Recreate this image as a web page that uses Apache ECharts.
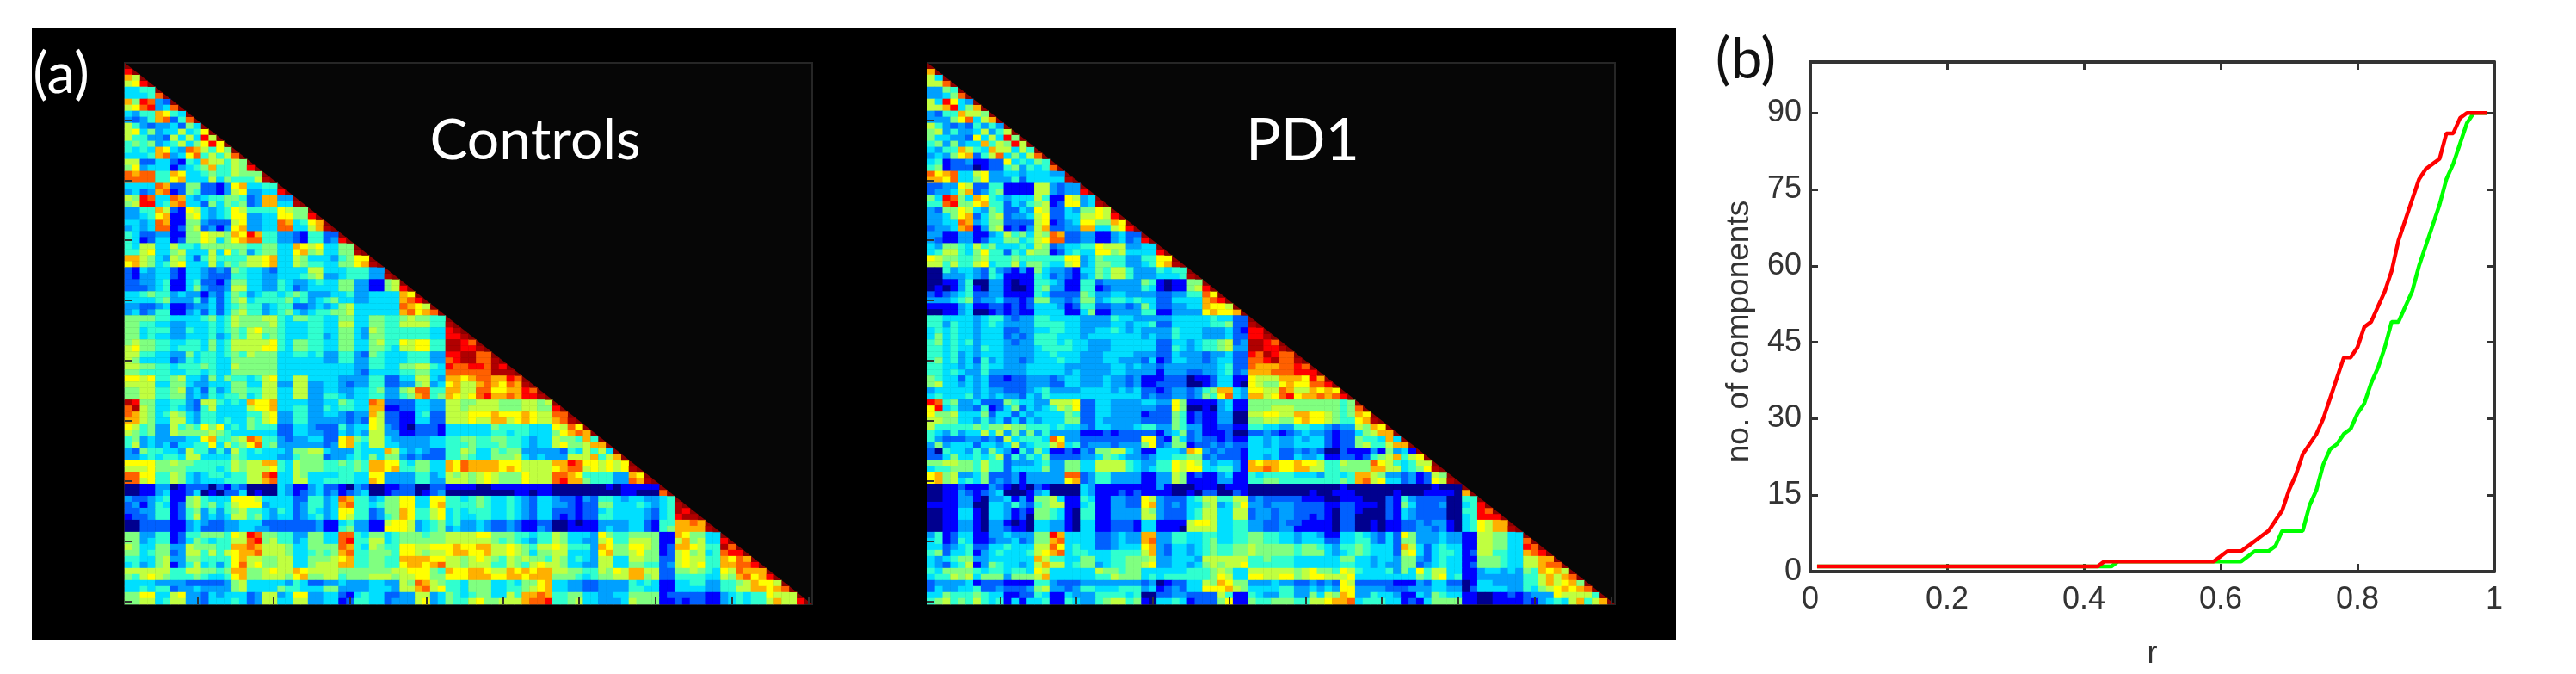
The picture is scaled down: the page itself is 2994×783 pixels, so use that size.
<!DOCTYPE html>
<html>
<head>
<meta charset="utf-8">
<style>
html, body { margin: 0; padding: 0; background: #fff; }
#main { width: 2994px; height: 783px; }
</style>
<script src="https://cdn.jsdelivr.net/npm/echarts@6/dist/echarts.min.js"></script>
</head>
<body>
<div id="main"></div>
<script>
// jet levels, one hex digit per cell: 0 navy, 8 yellow, c dark red, d diagonal
var levelColors = ['#00008f', '#0000ff', '#0060ff', '#00a0ff', '#00dfff', '#30ffcf', '#80ff80', '#c0ff40',
    '#ffff00', '#ffb000', '#ff6000', '#ff0000', '#b00000', '#8a0000'];

// row r holds columns 0..r-1 in groups of four, the diagonal is added when the data is built
var controlsRows = [
    'b',
    '97',
    '78b',
    '4455',
    '4445 a',
    '96ba 32',
    '78ab 34a',
    '4355 9854',
    '3235 9a25 a',
    '7532 3342 64',
    '7846 3447 458',
    '7553 3274 74b7',
    '5656 3457 468b 8',
    '5454 9843 a975 86',
    '4445 9a34 8a57 57a',
    '7722 4421 5497 7576',
    '6834 4413 4569 5576 b',
    'a9aa 5598 4456 5576 66',
    'aaaa 5589 4447 4655 57c',
    '4444 a922 6622 1389 4455',
    '3423 9a12 6522 1378 3344 b',
    '76ba 44a9 4345 5665 2399 33',
    '67bb 459a 4426 4656 2399 44c',
    '3355 9721 8743 4587 5555 8766',
    '3345 8911 7843 4588 3344 8866 b',
    '4434 a911 6632 2278 3344 a945 89',
    '3434 aa12 6723 1389 3344 aa44 79c',
    '5422 3311 6687 7698 b955 3321 5522',
    '5412 4412 6687 4689 aa55 3321 5523 b',
    '5477 4475 5466 6666 5566 4498 7844 66',
    '5578 4467 4447 4856 3566 4489 6744 66c',
    '9976 4376 4257 5555 7789 4476 4443 5688',
    '8976 4578 4447 4656 7789 4476 5544 6689 c',
    '2143 4421 4432 3265 4432 4444 7744 4555 33',
    '2133 4421 4432 2255 4433 4445 6733 4555 33c',
    '2233 4511 4522 1366 4433 5433 4544 6633 1167',
    '2223 4511 4632 2377 4433 5423 4444 6633 1167 b',
    '4456 5534 3313 2465 3455 4565 3334 4533 4444 98',
    '4444 5633 3524 2467 4555 5645 3456 4433 4444 9ab',
    '3322 3411 2334 2456 5534 5522 3434 6744 4444 a987',
    '3423 5511 3424 2467 5534 5643 4556 6744 4444 9a89 a',
    '6666 5544 4456 4576 6677 5466 5544 6644 6655 6766 55',
    '6655 4433 4445 4576 6667 5444 5544 7744 6655 7777 55c',
    '6645 5533 5445 4565 7866 5444 5544 6643 7655 5555 44bc',
    '6645 4433 4445 3465 7756 5444 5534 6643 6655 5555 44bb c',
    '6766 5544 5546 4577 7778 5466 5544 6644 6755 8788 55cc ba',
    '7866 5545 5546 4577 7788 5466 5544 6644 6654 7788 55cc bbc',
    '7755 4433 6455 4565 7666 4455 4533 5532 6544 4555 33bb ccaa',
    '7644 4423 5455 4466 6666 4444 4433 5533 5544 4555 33ab ccaa c',
    '7766 5545 5565 4476 6666 4444 4444 4433 5544 6677 54ba abba cb',
    '6655 5544 5545 4466 6666 4444 4444 4432 4444 5566 44aa aaaa ccc',
    '8878 5567 4436 4655 4578 4477 4444 3333 5522 4477 4399 89aa 99ba',
    '7777 4466 4334 4466 4477 3377 3344 3233 5522 3367 3489 779a 98a9 c',
    '6677 5567 3425 3466 5577 4477 3344 3344 5633 67aa 5599 77aa 8899 ba',
    '6677 5566 3435 4556 4577 4477 3355 4344 5533 569a 5698 78ab 99a9 bbc',
    'cb66 4455 3277 5454 9889 4444 3344 6544 a922 2244 3377 6677 7666 7767',
    'ac76 4454 3257 4444 7889 4455 3354 5544 9911 2244 3377 6777 7666 7766 b',
    'a976 4576 4355 4444 5578 3355 3344 3233 9722 1145 2277 7888 9888 9877 aa',
    '9976 4477 4355 4544 6578 3355 3333 3232 8722 1144 2277 7877 9978 9877 9ac',
    '8756 3375 6586 8454 6555 2244 3222 5344 8732 1022 2144 4444 6555 5444 87a8',
    '7656 3376 6667 6544 4444 2244 3322 4343 7733 1122 2144 4444 5545 5444 689a 9',
    '5634 3333 4489 5567 a955 3233 4422 8965 7743 3333 4455 6655 6655 4344 7665 95',
    '5734 3424 4558 4756 8a56 3333 3323 8954 7744 3333 4455 5655 5655 4344 7866 799',
    '3265 5443 7553 5375 4544 4366 7743 3354 4497 4343 2255 7644 6566 3333 3254 7574',
    '3345 4554 7744 4465 4444 3356 6623 3454 6466 3232 2255 6544 6667 4343 3377 7957 9',
    '8888 6676 6555 5576 7799 5476 6655 6565 9988 5466 4498 a999 9888 7777 99ba 8878 78',
    '7778 6666 5555 4576 7778 5476 6655 5565 9989 5566 4498 a999 9898 7777 89aa 7878 78c',
    'aa88 5576 4345 5455 77ab 4476 4444 5544 8833 3355 3476 7678 7666 8777 aa98 5555 3398',
    'aa78 5576 4344 4555 779a 4477 4455 5544 9833 3355 3377 7678 7666 8777 ab99 6555 33a9 c',
    '0011 3301 2220 2132 0000 4311 3422 1032 0011 2200 2211 1100 1111 1111 0000 0001 0111 11',
    '0011 3411 2401 0224 0100 4312 3423 1234 0012 2201 2300 0000 0001 1011 0000 0000 0110 00a',
    '3223 4511 6754 4488 8744 4422 5534 a955 3466 8844 8855 4565 4454 3244 3221 3255 4344 3345',
    '2313 5412 6756 4578 8834 4423 5534 9a55 4566 8844 8955 5565 4454 3244 3321 2266 4445 4345 c',
    '2233 5512 5635 3567 5543 5423 5434 8855 2366 9855 7845 4555 4454 3244 2221 2245 4444 3245 cb',
    '1223 5512 5734 3477 5643 4423 4534 8755 2356 9855 7845 4455 4454 3244 2121 2255 4444 3245 bcc',
    '0022 2211 3432 2334 4422 2222 2311 4533 1178 8734 5645 3343 2232 1122 0010 1133 3344 2155 99a9',
    '0022 2211 3422 2334 4332 2222 2311 5633 1188 8734 5634 3343 2232 1132 0011 1134 3344 2156 9999 c',
    '6633 5512 5566 6587 ba66 5533 6644 aa54 6645 6665 6677 7788 6665 5455 7644 4386 5566 6611 9866 44',
    '6634 5512 4654 5577 ab67 5534 6644 ab55 7745 6666 6677 7777 6565 4355 7644 3378 5577 7611 7967 44b',
    '7644 6633 7666 5599 a977 7644 6666 a954 7655 8877 8889 8899 7787 6577 8755 5398 6688 7612 9987 55ca',
    '6645 6623 7757 5789 9a77 7644 5656 9a55 6665 8876 7789 9889 7787 6466 7744 4389 6678 6612 7867 45ab b',
    '5544 6733 6655 5589 7766 7744 6667 8955 6655 9999 8877 6787 6576 7665 7645 4377 4477 6622 7877 5598 a9',
    '4534 6713 5745 358a 7866 7744 6777 9955 6655 8998 9a77 6777 5576 5787 7644 3377 4466 5523 7878 5599 aab',
    '7777 7755 7766 5699 6678 7798 7777 6666 6667 7888 6598 8998 7798 9899 7766 5576 8799 7722 6676 5487 a999',
    '6578 7655 5654 4589 6677 7689 6677 5666 7776 7788 6688 8999 8899 8999 6665 4566 7799 6722 5555 4476 9a89 b',
    '4444 3333 2222 2367 4444 4354 2233 4333 4433 76a9 7655 4666 4454 6689 4433 2233 3354 5411 4455 3355 6798 87',
    '4454 5523 3433 3367 4444 6554 4466 3333 4443 779a 7855 4666 4455 6789 4433 2233 3355 4411 4444 3355 7799 89a',
    '6688 4478 3324 3444 2377 3488 3344 2145 4422 3377 3465 4566 4475 99a9 5566 4433 4466 6612 2222 1134 5455 8777',
    '6677 4577 3324 4454 2377 4477 3344 1255 4423 3378 3465 5786 6777 9aab 5567 4433 3476 6611 2122 1134 5455 7977 b'
];

var pd1Rows = [
    '9',
    '74',
    '77a',
    '3365',
    '3346 a',
    '74b8 43',
    '779b 469',
    '3255 9776',
    '3336 8a47 9',
    '7532 3253 53',
    '6735 3347 357',
    '6443 3284 74b6',
    '5636 3449 576b 7',
    '4355 9754 9774 75',
    '3436 8925 7a46 47a',
    '4512 2311 2284 5465',
    '5612 2201 2256 3545 a',
    'a89a 4478 3344 3444 33',
    '998a 4468 3335 2444 44c',
    '2233 8722 5511 1177 3233',
    '2334 7923 5611 1177 3233 b',
    '64ba 6498 5434 4475 1187 34',
    '55ab 6689 5524 3567 1288 34c',
    '3266 8743 6522 4387 2243 6687',
    '3346 8924 6723 3478 2244 7787 b',
    '3344 a934 6622 2278 1234 8866 98',
    '2334 9a13 6712 1379 2233 9944 78b',
    '3311 3311 3475 6476 a922 3311 3422',
    '3211 3312 4466 4578 aa22 3311 3423 b',
    '4366 5475 6444 5476 2344 5587 7733 44',
    '4577 5468 5525 4766 1245 4488 6744 44b',
    '8766 5567 5556 5555 5588 3465 5533 5588',
    '7757 5578 4557 4665 4478 3466 5533 4589 c',
    '0053 4432 5321 3164 3321 4465 7753 3354 55',
    '0033 3432 5411 1154 2321 3465 7753 3344 45c',
    '0011 3500 3310 1155 4311 5523 3333 6510 1166',
    '0101 3510 3310 0156 3311 5512 3333 5410 1167 b',
    '2123 4522 3311 1154 2222 6533 4433 3322 3355 a8',
    '3334 5623 3422 1266 3323 6634 5545 4422 4444 9ab',
    '1111 3411 2212 1244 4312 5522 3323 6422 3344 9887',
    '0011 3400 1212 1144 4411 4611 3333 5511 3333 8988 9',
    '5544 4434 5532 3355 4444 3333 5443 3333 4444 4544 22',
    '5535 4434 5433 3355 5544 3333 4434 4522 4444 4556 22c',
    '4545 4434 4422 3344 5544 3344 5434 3333 5444 3334 21bb',
    '4645 4434 4423 2355 5444 3444 4444 3433 5444 3334 22bb c',
    '5645 4534 4432 3355 5454 4333 4444 4422 4434 5567 23cc ba',
    '5545 4435 4433 3345 5554 4333 4444 4422 5434 5567 33cc bbc',
    '5545 3434 4433 3344 5444 3334 4443 3322 4333 2334 22ba cbaa',
    '5645 3425 3433 2344 4544 3334 4333 2412 4433 2344 22aa bcaa c',
    '5544 3435 4433 3444 4433 3333 4434 3323 3333 3345 22a9 99aa ba',
    '5545 4335 3333 3444 4434 3333 4433 3313 3322 3345 2399 9aaa bbb',
    '6544 2434 2212 2333 2344 3334 3323 1112 2201 1244 1187 7799 98b9',
    '6744 3434 2222 2333 2244 3334 3323 1122 2200 1244 1087 6689 88aa b',
    '3444 4434 3322 2345 3333 4444 3434 2212 3323 5699 4388 77a9 7798 98',
    '4544 4534 3433 2435 4444 4444 4444 2322 3323 658a 4399 78ab 899a 9ab',
    'ba56 3342 2265 4433 7778 2244 3333 4433 8611 1134 1166 6666 6666 6656',
    '8b45 3325 1246 2434 5768 2244 3333 3322 8600 1034 1166 6777 6666 6656 a',
    '8667 4446 2442 4344 4465 2244 3333 1222 6512 1133 0077 8877 9988 7656 98',
    '7766 4435 3424 2434 4466 2243 3333 2222 6512 1133 0066 7766 8988 7655 89c',
    '7555 5565 6676 6555 4544 3244 3334 5533 6533 1122 1155 4433 5544 3233 7698',
    '5435 3447 4736 3635 3333 1112 1222 2213 4623 1112 0022 3212 3433 2122 4679 9',
    '5322 2332 3274 5554 a833 2222 2222 8821 6423 2212 1144 3433 4344 2122 6554 94',
    '3634 4424 4347 3455 7945 2333 2333 6823 6612 2323 2244 3433 4444 2122 6755 799',
    '2054 4353 6431 5364 1121 3266 7743 1144 4398 3232 2144 4422 3232 0021 1131 6341',
    '2246 4454 5725 3546 2222 3346 5433 2344 5566 2322 2144 3422 4334 1122 1256 7957 8',
    '6677 6657 5523 3345 3366 4477 7754 3355 8787 4344 3198 9988 9887 5576 66a8 7545 77',
    '4556 6657 5524 4446 3366 4477 7754 3455 8788 4455 3199 a988 9977 5566 6699 7745 68c',
    '8967 3346 2223 1333 33aa 2355 3333 1133 7612 1134 1154 5555 4443 5545 9976 3323 1276',
    '8967 4546 2323 1333 3389 2355 3333 1133 7611 1133 1155 6655 5555 5565 9a78 4423 1287 c',
    '0011 2111 3210 1021 0000 4311 1111 1131 0001 1101 1100 0000 0000 0010 0000 0000 0010 00',
    '0011 3212 3400 0134 0000 4311 1212 1111 0010 2200 2100 0000 0010 0111 0000 0100 0111 109',
    '0011 3310 3341 3166 7411 5411 3322 8732 2245 7755 7723 2222 2111 0011 1000 2153 2222 0055',
    '1111 3300 4435 3256 7711 4511 3322 8932 3244 6734 6833 2333 2222 1122 1110 2164 2223 0045 b',
    '0011 4410 4431 2166 5410 5511 3333 7632 2245 7744 7723 3233 2222 1022 1000 2143 2222 0055 ba',
    '0011 4410 4431 2066 5410 5511 3333 7732 2245 7744 7723 3233 2212 1022 0000 2143 2222 0045 bbb',
    '0011 3310 3310 1044 3310 4411 2221 4411 1178 8744 5533 2232 2111 1022 0010 1122 3233 1045 8799',
    '0011 3310 3321 1044 3310 4411 2221 4411 1077 7744 5533 2233 1111 1022 0010 1122 3323 1045 8799 c',
    '3512 4411 3343 3366 b944 4422 3433 9933 5544 5544 5566 5544 3443 1144 5432 4286 3334 3311 7766 44',
    '4512 5411 2334 2366 9a44 4422 3433 9a33 5544 5644 5566 5544 3444 2244 5532 4266 3334 3311 7766 44a',
    '4423 4522 4454 4477 a845 4422 3444 8932 4434 5655 6676 6666 5665 4355 6544 4297 4245 4411 7766 44ba',
    '5624 4513 4544 4578 9a45 5444 5555 7932 4434 5655 6676 6666 5666 4345 6544 4278 4245 5412 7755 449a b',
    '4345 6633 4444 4497 5544 6644 5566 6733 4443 7777 7755 6555 4444 4466 4434 4366 3245 4411 6665 4477 99',
    '4324 5713 6544 3479 7745 6634 5566 7833 4434 6767 7855 5555 4444 4455 4434 3366 2345 4412 6665 4477 9aa',
    '5466 6654 5545 5487 4444 4476 6566 4444 4455 5676 4477 7777 6786 6587 5444 5364 8577 4411 3443 4365 9897',
    '4557 6746 6636 6679 4444 4455 7666 4545 5555 5687 4488 7788 6788 7778 4444 4444 6578 4511 3333 3355 7979 a',
    '2333 3412 2211 1155 3222 3333 3333 2301 2244 7698 6633 3433 2232 3287 2222 2111 3244 2201 4433 3355 7978 96',
    '2433 4452 2322 2367 3323 5544 4555 3412 3244 8889 7644 4455 3343 4388 3333 2223 3344 3302 4444 3354 6789 89a',
    '4465 5565 4411 2254 1143 3355 5545 0022 3322 2275 1154 3355 3364 7698 3354 4311 4365 4411 0011 2123 3387 7775',
    '5675 6575 4514 1445 1154 3356 7756 1044 5412 2268 1165 5666 5577 899a 4555 4412 1466 6611 0011 1121 3454 7957 9'
];

var rValues = [0.01, 0.02, 0.03, 0.04, 0.05, 0.06, 0.07, 0.08, 0.09, 0.1, 0.11, 0.12, 0.13, 0.14, 0.15, 0.16, 0.17, 0.18, 0.19, 0.2,
    0.21, 0.22, 0.23, 0.24, 0.25, 0.26, 0.27, 0.28, 0.29, 0.3, 0.31, 0.32, 0.33, 0.34, 0.35, 0.36, 0.37, 0.38, 0.39, 0.4,
    0.41, 0.42, 0.43, 0.44, 0.45, 0.46, 0.47, 0.48, 0.49, 0.5, 0.51, 0.52, 0.53, 0.54, 0.55, 0.56, 0.57, 0.58, 0.59, 0.6,
    0.61, 0.62, 0.63, 0.64, 0.65, 0.66, 0.67, 0.68, 0.69, 0.7, 0.71, 0.72, 0.73, 0.74, 0.75, 0.76, 0.77, 0.78, 0.79, 0.8,
    0.81, 0.82, 0.83, 0.84, 0.85, 0.86, 0.87, 0.88, 0.89, 0.9, 0.91, 0.92, 0.93, 0.94, 0.95, 0.96, 0.97, 0.98, 0.99];
var greenCounts = [1, 1, 1, 1, 1, 1, 1, 1, 1, 1, 1, 1, 1, 1, 1, 1, 1, 1, 1, 1, 1, 1, 1, 1, 1, 1, 1, 1, 1, 1, 1, 1, 1, 1, 1, 1, 1, 1, 1, 1,
    1, 1, 1, 1, 2, 2, 2, 2, 2, 2, 2, 2, 2, 2, 2, 2, 2, 2, 2, 2, 2, 2, 2,
    3, 4, 4, 4, 5, 8, 8, 8, 8, 13, 16, 21, 24, 25, 27, 28, 31, 33, 37, 40, 44, 49, 49, 52, 55, 60, 64, 68, 72, 77, 80, 84, 88, 90, 90, 90];
var redCounts = [1, 1, 1, 1, 1, 1, 1, 1, 1, 1, 1, 1, 1, 1, 1, 1, 1, 1, 1, 1, 1, 1, 1, 1, 1, 1, 1, 1, 1, 1, 1, 1, 1, 1, 1, 1, 1, 1, 1, 1,
    1, 1, 2, 2, 2, 2, 2, 2, 2, 2, 2, 2, 2, 2, 2, 2, 2, 2, 2,
    3, 4, 4, 4, 5, 6, 7, 8, 10, 12, 16, 19, 23, 25, 27, 30, 34, 38, 42, 42, 44, 48, 49, 52, 55, 59, 65, 69, 73, 77, 79, 80, 81, 86, 86, 89, 90, 90, 90, 90];

var yTicks = [0, 15, 30, 45, 60, 75, 90];
var cellNames = [];
for (var n = 1; n <= 90; n++) cellNames.push(String(n));

function cells(rows) {
    var out = [];
    rows.forEach(function (raw, i) {
        var row = raw.replace(/ /g, '');
        for (var c = 0; c < row.length; c++) out.push([c, i + 1, parseInt(row.charAt(c), 16)]);
    });
    return out;
}
function diagonal() {
    var out = [];
    for (var i = 0; i < 90; i++) out.push([i, i, 13]);
    return out;
}
function zip(xs, ys) {
    return xs.map(function (x, i) { return [x, ys[i]]; });
}
function tenth(index) {
    return (index + 1) % 10 === 0;
}
function matrixAxis(g, inverse) {
    return {
        type: 'category', gridIndex: g, data: cellNames, inverse: inverse, z: 5,
        axisLine: { show: false }, axisLabel: { show: false }, splitLine: { show: false },
        axisTick: { show: true, inside: true, alignWithLabel: true, length: 8, interval: function (i) { return tenth(i); }, lineStyle: { color: '#333', width: 2 } }
    };
}
function heat(g, rows) {
    return {
        type: 'heatmap', xAxisIndex: g, yAxisIndex: g, data: cells(rows), progressive: 0, silent: true,
        itemStyle: { borderWidth: 0 }
    };
}
function diag(g) {
    return {
        type: 'custom', xAxisIndex: g, yAxisIndex: g, data: diagonal(), silent: true, z: 3,
        renderItem: function (params, api) {
            var p = api.coord([api.value(0), api.value(1)]);
            var s = api.size([1, 1]);
            return {
                type: 'polygon',
                shape: { points: [[p[0] - s[0] / 2, p[1] - s[1] / 2], [p[0] - s[0] / 2, p[1] + s[1] / 2], [p[0] + s[0] / 2, p[1] + s[1] / 2]] },
                style: { fill: levelColors[13] }
            };
        }
    };
}
var lineAxisLine = { show: true, onZero: false, lineStyle: { color: '#333', width: 4 } };
var lineTick = { show: true, inside: true, length: 9, lineStyle: { color: '#333', width: 3 } };
var lineFont = 'Liberation Sans';

var option = {
    animation: false,
    graphic: [
        { type: 'rect', z: -10, silent: true, shape: { x: 37, y: 32, width: 1911, height: 711 }, style: { fill: '#000' } },
        { type: 'text', z: 10, x: 71, y: 87, style: { text: '(a)', fill: '#fff', font: '66px Lato', textAlign: 'center', textVerticalAlign: 'middle' } },
        { type: 'text', z: 10, x: 622, y: 164, style: { text: 'Controls', fill: '#fff', font: '66px Lato', textAlign: 'center', textVerticalAlign: 'middle' } },
        { type: 'text', z: 10, x: 1514, y: 164, style: { text: 'PD1', fill: '#fff', font: '68px Lato', textAlign: 'center', textVerticalAlign: 'middle' } },
        { type: 'text', z: 10, x: 2029, y: 70, style: { text: '(b)', fill: '#111', font: '66px Lato', textAlign: 'center', textVerticalAlign: 'middle' } }
    ],
    visualMap: { show: false, type: 'continuous', seriesIndex: [0, 2], min: 0, max: 13, inRange: { color: levelColors } },
    grid: [
        { left: 145, top: 73, width: 799, height: 629, show: true, backgroundColor: '#060606', borderColor: '#262626', borderWidth: 2 },
        { left: 1078, top: 73, width: 799, height: 629, show: true, backgroundColor: '#060606', borderColor: '#262626', borderWidth: 2 },
        { left: 2104, top: 72, width: 795, height: 598 }
    ],
    xAxis: [
        matrixAxis(0, false),
        matrixAxis(1, false),
        {
            type: 'value', gridIndex: 2, min: 0, max: 1, interval: 0.2, position: 'bottom', name: 'r', nameLocation: 'middle', nameGap: 78,
            nameTextStyle: { fontFamily: lineFont, fontSize: 36, color: '#333' },
            axisLine: lineAxisLine, axisTick: lineTick, splitLine: { show: false },
            axisLabel: { fontFamily: lineFont, fontSize: 36, color: '#333', margin: 15, showMinLabel: true, showMaxLabel: true }
        },
        {
            type: 'value', gridIndex: 2, min: 0, max: 1, interval: 0.2, position: 'top',
            axisLine: lineAxisLine, axisTick: lineTick, axisLabel: { show: false }, splitLine: { show: false }
        }
    ],
    yAxis: [
        matrixAxis(0, true),
        matrixAxis(1, true),
        {
            type: 'value', gridIndex: 2, min: 0, max: 100, interval: 15, position: 'left', name: 'no. of components', nameLocation: 'middle', nameGap: 64, nameRotate: 90,
            nameTextStyle: { fontFamily: lineFont, fontSize: 37, color: '#333', padding: [0, 34, 0, 0] },
            axisLine: lineAxisLine, axisTick: lineTick, splitLine: { show: false },
            axisLabel: {
                fontFamily: lineFont, fontSize: 36, color: '#333', margin: 10,
                formatter: function (v) { return yTicks.indexOf(v) >= 0 ? String(v) : ''; }
            }
        },
        {
            type: 'value', gridIndex: 2, min: 0, max: 100, interval: 15, position: 'right',
            axisLine: lineAxisLine, axisTick: lineTick, axisLabel: { show: false }, splitLine: { show: false }
        }
    ],
    series: [
        heat(0, controlsRows),
        diag(0),
        heat(1, pd1Rows),
        diag(1),
        {
            type: 'line', xAxisIndex: 2, yAxisIndex: 2, data: zip(rValues, greenCounts), showSymbol: false, silent: true,
            lineStyle: { color: '#00ff00', width: 4.5 }, z: 4
        },
        {
            type: 'line', xAxisIndex: 2, yAxisIndex: 2, data: zip(rValues, redCounts), showSymbol: false, silent: true,
            lineStyle: { color: '#ff0000', width: 4.5 }, z: 5
        }
    ]
};

var chart = echarts.init(document.getElementById('main'), null, { renderer: 'canvas' });
chart.setOption(option);
</script>
</body>
</html>
